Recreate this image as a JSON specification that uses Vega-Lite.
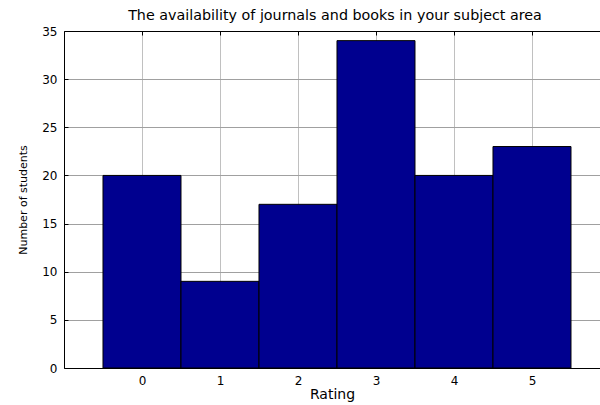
{
  "$schema": "https://vega.github.io/schema/vega-lite/v6.json",
  "autosize": "none",
  "width": 536,
  "height": 337,
  "padding": {"left": 64, "top": 31, "right": 0, "bottom": 37},
  "background": "white",
  "config": {
    "view": {"stroke": null},
    "font": "DejaVu Sans",
    "axis": {"labelFont": "DejaVu Sans", "titleFont": "DejaVu Sans", "labelFontSize": 12, "titleFontSize": 14, "titleFontWeight": "normal", "labelColor": "black", "titleColor": "black", "domainColor": "black", "tickColor": "black", "domainWidth": 1}
  },
  "title": {"text": "The availability of journals and books in your subject area", "font": "DejaVu Sans", "fontSize": 14.3, "fontWeight": "normal", "color": "black", "offset": 2, "dx": 3},
  "data": {"values": [
    {"rating": 0, "students": 20},
    {"rating": 1, "students": 9},
    {"rating": 2, "students": 17},
    {"rating": 3, "students": 34},
    {"rating": 4, "students": 20},
    {"rating": 5, "students": 23}
  ]},
  "transform": [{"bin": {"step": 1, "anchor": -0.5, "extent": [-0.5, 5.5]}, "field": "rating", "as": ["lo", "hi"]}],
  "layer": [
    {
      "mark": {"type": "bar", "fill": "#00008f", "stroke": "black", "strokeWidth": 1},
      "encoding": {
        "x": {"field": "lo", "type": "quantitative", "scale": {"domain": [-1, 5.872], "nice": false, "zero": false},
          "axis": {"orient": "bottom", "values": [0, 1, 2, 3, 4, 5], "title": "Rating", "grid": true, "gridColor": "#808080", "gridDash": [1, 1], "gridWidth": 1, "tickSize": 0, "labelPadding": 7, "titlePadding": 1}},
        "x2": {"field": "hi"},
        "y": {"field": "students", "type": "quantitative", "scale": {"domain": [0, 35], "nice": false, "padding": 0},
          "axis": {"values": [0, 5, 10, 15, 20, 25, 30, 35], "title": "Number of students", "titleFontSize": 11, "grid": true, "gridColor": "#a0a0a0", "gridWidth": 1, "tickSize": -4, "labelPadding": 11, "titlePadding": 13}},
        "y2": {"datum": 0}
      }
    },
    {
      "mark": {"type": "point", "opacity": 0},
      "encoding": {
        "x": {"field": "rating", "type": "quantitative",
          "axis": {"orient": "top", "values": [0, 1, 2, 3, 4, 5], "title": null, "labels": false, "grid": false, "tickSize": -4}}
      }
    }
  ],
  "resolve": {"axis": {"x": "independent"}}
}
